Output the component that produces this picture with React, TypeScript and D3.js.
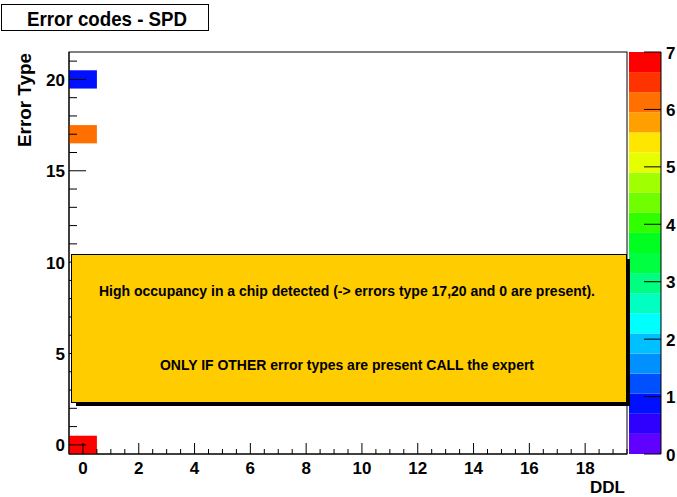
import React from "react";
import { scaleLinear, scaleQuantize, range } from "d3";

const svgWidth = 677;
const svgHeight = 497;
const frame = { left: 69, right: 627, top: 52, bottom: 454 };
const bar = { left: 629, right: 661 };
const font = "'Liberation Sans', Arial, Helvetica, sans-serif";

// filled bins of the 2D histogram
const ddlBins = [0, 0, 0];
const errorTypes = [0, 17, 20];
const counts = [7, 6, 1];

const xTickLabels = [0, 2, 4, 6, 8, 10, 12, 14, 16, 18];
const yTickLabels = [0, 5, 10, 15, 20];
const zTickLabels = [0, 1, 2, 3, 4, 5, 6, 7];

// palette, bottom -> top
const paletteColors = [
  "#6000ff", "#3000ff", "#0010ff", "#0050ff", "#0090ff",
  "#00c0ff", "#00ffff", "#00ffc0", "#00ff80", "#00ff40",
  "#00ff20", "#30ff00", "#70ff00", "#a0ff00", "#e6ff00",
  "#ffe600", "#ffa000", "#ff7000", "#ff3300", "#ff0000",
];

const noteLines = [
  "High occupancy in a chip detected (-> errors type 17,20 and 0 are present).",
  "ONLY IF OTHER error types are present CALL the expert",
];

const x = scaleLinear().domain([-0.5, 19.5]).range([frame.left, frame.right]);
const y = scaleLinear().domain([-0.5, 21.5]).range([frame.bottom, frame.top]);
const z = scaleLinear().domain([0, 7]).range([frame.bottom, frame.top]);
const color = scaleQuantize<string>().domain([0, 7]).range(paletteColors);

const xTicks = range(0, 19.51, 0.5);
const yTicks = range(0, 22, 1);
const levelStep = 7 / paletteColors.length;

function App() {
  return (
    <svg
      width={svgWidth}
      height={svgHeight}
      style={{ position: "absolute", left: 0, top: 0, background: "white" }}
      fontFamily={font}
      fontWeight="bold"
    >
      {/* title */}
      <rect x={1.5} y={4.5} width={207} height={26} fill="white" stroke="black" />
      <text x={107} y={26} fontSize={21} textAnchor="middle" textLength={160} lengthAdjust="spacingAndGlyphs">
        Error codes - SPD
      </text>

      {/* frame */}
      <rect
        x={frame.left}
        y={frame.top}
        width={frame.right - frame.left}
        height={frame.bottom - frame.top}
        fill="white"
        stroke="black"
      />

      {/* bins */}
      {counts.map((c, i) => (
        <rect
          key={`bin${i}`}
          x={x(ddlBins[i] - 0.5)}
          y={y(errorTypes[i] + 0.5)}
          width={x(ddlBins[i] + 0.5) - x(ddlBins[i] - 0.5)}
          height={y(errorTypes[i] - 0.5) - y(errorTypes[i] + 0.5)}
          fill={color(c)}
        />
      ))}

      {/* x axis */}
      <line x1={frame.left} x2={frame.right} y1={frame.bottom} y2={frame.bottom} stroke="black" />
      {xTicks.map((t) => {
        const major = t % 2 === 0;
        return (
          <line
            key={`xt${t}`}
            x1={x(t)}
            x2={x(t)}
            y1={frame.bottom}
            y2={frame.bottom - (major ? 11 : 5)}
            stroke="black"
          />
        );
      })}
      {xTickLabels.map((t) => (
        <text key={`xl${t}`} x={x(t)} y={474} fontSize={17} textAnchor="middle">
          {t}
        </text>
      ))}
      <text x={625} y={493} fontSize={17} textAnchor="end">
        DDL
      </text>

      {/* y axis */}
      <line x1={frame.left} x2={frame.left} y1={frame.top} y2={frame.bottom} stroke="black" />
      {yTicks.map((t) => {
        const major = t % 5 === 0;
        return (
          <line
            key={`yt${t}`}
            x1={frame.left}
            x2={frame.left + (major ? 17 : 8)}
            y1={y(t)}
            y2={y(t)}
            stroke="black"
          />
        );
      })}
      {yTickLabels.map((t) => (
        <text key={`yl${t}`} x={65} y={y(t) + 6.5} fontSize={17} textAnchor="end">
          {t}
        </text>
      ))}
      <text
        transform="translate(31,53) rotate(-90)"
        fontSize={18}
        textAnchor="end"
        textLength={94}
        lengthAdjust="spacingAndGlyphs"
      >
        Error Type
      </text>

      {/* palette */}
      {paletteColors.map((c, i) => (
        <rect
          key={`pal${i}`}
          x={bar.left}
          y={z((i + 1) * levelStep)}
          width={bar.right - bar.left}
          height={z(i * levelStep) - z((i + 1) * levelStep)}
          fill={c}
        />
      ))}
      <line x1={bar.right} x2={bar.right} y1={frame.top} y2={frame.bottom} stroke="black" />
      {zTickLabels.map((t) => (
        <g key={`zt${t}`}>
          <line x1={bar.right - 17} x2={bar.right} y1={z(t)} y2={z(t)} stroke="black" />
          <text x={666} y={z(t) + 6.5} fontSize={17}>
            {t}
          </text>
        </g>
      ))}

      {/* note */}
      <rect x={76} y={259} width={554} height={147} fill="black" />
      <rect x={71.5} y={254.5} width={555} height={148} fill="#ffcc00" stroke="black" />
      <text x={347} y={296} fontSize={14} textAnchor="middle" textLength={496} lengthAdjust="spacingAndGlyphs">
        {noteLines[0]}
      </text>
      <text x={347} y={370} fontSize={14} textAnchor="middle" textLength={374} lengthAdjust="spacingAndGlyphs">
        {noteLines[1]}
      </text>
    </svg>
  );
}

export default App;
